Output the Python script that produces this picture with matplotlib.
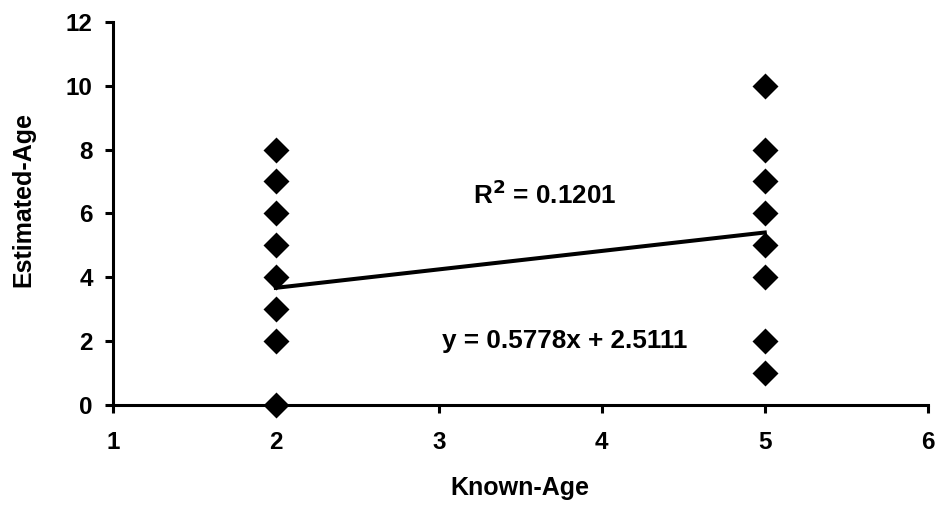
import matplotlib
matplotlib.use("Agg")
import matplotlib.pyplot as plt
import numpy as np

# Data
known_age_a = [2, 2, 2, 2, 2, 2, 2, 2]
est_age_a = [0, 2, 3, 4, 5, 6, 7, 8]
known_age_b = [5, 5, 5, 5, 5, 5, 5, 5]
est_age_b = [1, 2, 4, 5, 6, 7, 8, 10]
known_age = known_age_a + known_age_b
est_age = est_age_a + est_age_b

# Trend line as shown on the chart
slope = 0.5778
intercept = 2.5111
r_squared = 0.1201
trend_x = [2, 5]

x_ticks = [1, 2, 3, 4, 5, 6]
y_ticks = [0, 2, 4, 6, 8, 10, 12]

plt.rcParams['font.family'] = ['Liberation Sans', 'DejaVu Sans']
plt.rcParams['font.weight'] = 'bold'

fig = plt.figure(figsize=(9.4, 5.08), dpi=100)
ax = fig.add_axes([0.120, 0.203, 0.867, 0.754])

ax.scatter(known_age, est_age, marker='D', s=175, color='black', zorder=3,
           clip_on=False, linewidths=0)
ty = [slope * x + intercept for x in trend_x]
ax.plot(trend_x, ty, color='black', lw=2.9, zorder=2)

ax.set_xlim(1, 6)
ax.set_ylim(0, 12)
ax.set_xticks(x_ticks)
ax.set_yticks(y_ticks)

for s in ['top', 'right']:
    ax.spines[s].set_visible(False)
for s in ['left', 'bottom']:
    ax.spines[s].set_linewidth(2.2)

ax.tick_params(axis='both', direction='out', length=5.5, width=2.2,
               labelsize=17.5)
ax.tick_params(axis='x', pad=13)
ax.tick_params(axis='y', pad=9)
for lab in ax.get_xticklabels() + ax.get_yticklabels():
    lab.set_fontweight('bold')

fig.text(0.553, 1 - 488 / 508, 'Known-Age', ha='center', va='center',
         fontsize=18, fontweight='bold')
fig.text(23 / 940, 0.608, 'Estimated-Age', ha='center', va='center',
         rotation=90, fontsize=18, fontweight='bold')

ax.text(3.65, 6.58, 'R$^{\\mathbf{2}}$ = %.4f' % r_squared, ha='center', va='center',
        fontsize=18.8, fontweight='bold')
ax.text(3.77, 2.0, 'y = %.4fx + %.4f' % (slope, intercept), ha='center',
        va='center', fontsize=18.8, fontweight='bold')

fig.savefig('out.png', dpi=100)
